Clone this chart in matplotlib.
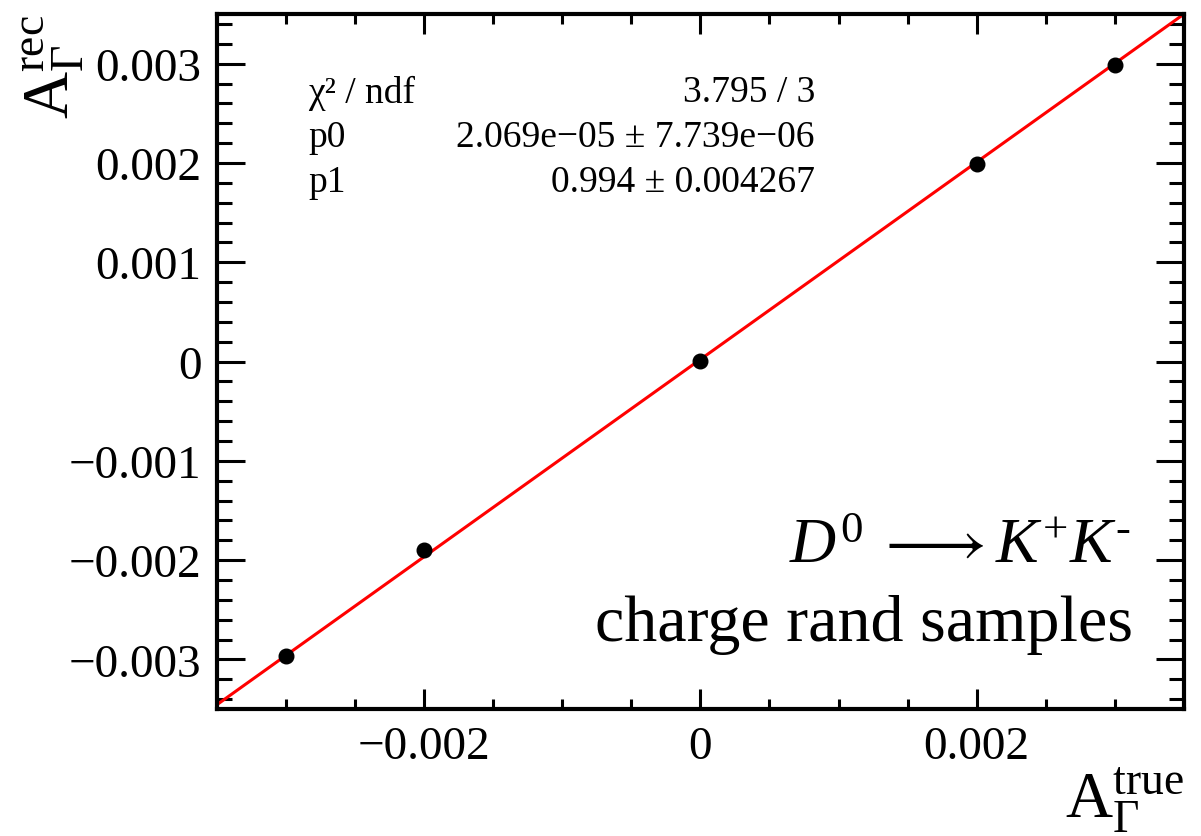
import numpy as np
import matplotlib
matplotlib.use("Agg")
import matplotlib.pyplot as plt
from matplotlib.ticker import FixedLocator, MultipleLocator, FuncFormatter

plt.rcParams['font.family'] = ['Liberation Serif', 'DejaVu Serif']
plt.rcParams['mathtext.fontset'] = 'custom'
plt.rcParams['mathtext.rm'] = 'Liberation Serif'
plt.rcParams['mathtext.it'] = 'Liberation Serif:italic'
plt.rcParams['mathtext.bf'] = 'Liberation Serif:bold'
plt.rcParams['mathtext.fallback'] = 'stix'

# ---- data ----
x_true = [-0.003, -0.002, 0.0, 0.002, 0.003]
y_rec = [-0.00297, -0.00190, 0.00001, 0.00199, 0.00299]
p0 = 2.069e-05
p1 = 0.994
x_range = [-0.0035, 0.0035]
y_range = [-0.0035, 0.0035]
x_major_ticks = [-0.002, 0.0, 0.002]
y_major_ticks = [-0.003, -0.002, -0.001, 0.0, 0.001, 0.002, 0.003]
stat_names = ["χ² / ndf", "p0", "p1"]
stat_values = ["3.795 / 3", "2.069e−05 ± 7.739e−06", "0.994 ± 0.004267"]

W, H = 1201, 837
fig = plt.figure(figsize=(W / 100, H / 100), dpi=100)
ax = fig.add_axes([216.7 / W, 1 - 710 / H, (1184 - 216.7) / W, (710 - 15) / H])

ax.set_xlim(*x_range)
ax.set_ylim(*y_range)

xf = np.array(x_range)
ax.plot(xf, p0 + p1 * xf, color='#ff0000', lw=2.2, zorder=2)
ax.plot(x_true, y_rec, 'o', color='black', ms=10.5, zorder=3)

def fmt(v, pos):
    if abs(v) < 1e-12:
        return "0"
    s = f"{v:.3f}"
    return s.replace("-", "−")

ax.xaxis.set_major_locator(FixedLocator(x_major_ticks))
ax.xaxis.set_minor_locator(MultipleLocator(0.0005))
ax.yaxis.set_major_locator(FixedLocator(y_major_ticks))
ax.yaxis.set_minor_locator(MultipleLocator(0.0002))
ax.xaxis.set_major_formatter(FuncFormatter(fmt))
ax.yaxis.set_major_formatter(FuncFormatter(fmt))

for s in ax.spines.values():
    s.set_linewidth(3.0)

ax.tick_params(axis='both', which='both', direction='in', top=True, right=True,
               width=2.2, labelsize=34)
ax.tick_params(axis='x', which='major', length=14.5, pad=12)
ax.tick_params(axis='x', which='minor', length=7)
ax.tick_params(axis='y', which='major', length=20, pad=11)
ax.tick_params(axis='y', which='minor', length=10.5)

ax.set_xlabel(r'$\mathregular{A_{\Gamma}^{true}}$', fontsize=47, loc='right')
ax.xaxis.set_label_coords(1.0, -0.08)
ax.xaxis.label.set_va('top')
ax.set_ylabel(r'$\mathregular{A_{\Gamma}^{rec}}$', fontsize=47, loc='top')
ax.yaxis.set_label_coords(-0.135, 1.0)

# fit statistics box (no border)
row_y = [93, 138, 183]
for name, val, yy in zip(stat_names, stat_values, row_y):
    fig.text(308 / W, 1 - yy / H, name, fontsize=27, ha='left', va='center')
    fig.text(815 / W, 1 - yy / H, val, fontsize=27, ha='right', va='center')

fig.text(1131 / W, 1 - 548 / H,
         r'$D^{\mathit{0}}\;\longrightarrow K^{+}K^{\text{-}}$',
         fontsize=46, ha='right', va='center')
fig.text(1133 / W, 1 - 625 / H, 'charge rand samples', fontsize=47.5,
         ha='right', va='center')

fig.savefig('out.png', dpi=100)
